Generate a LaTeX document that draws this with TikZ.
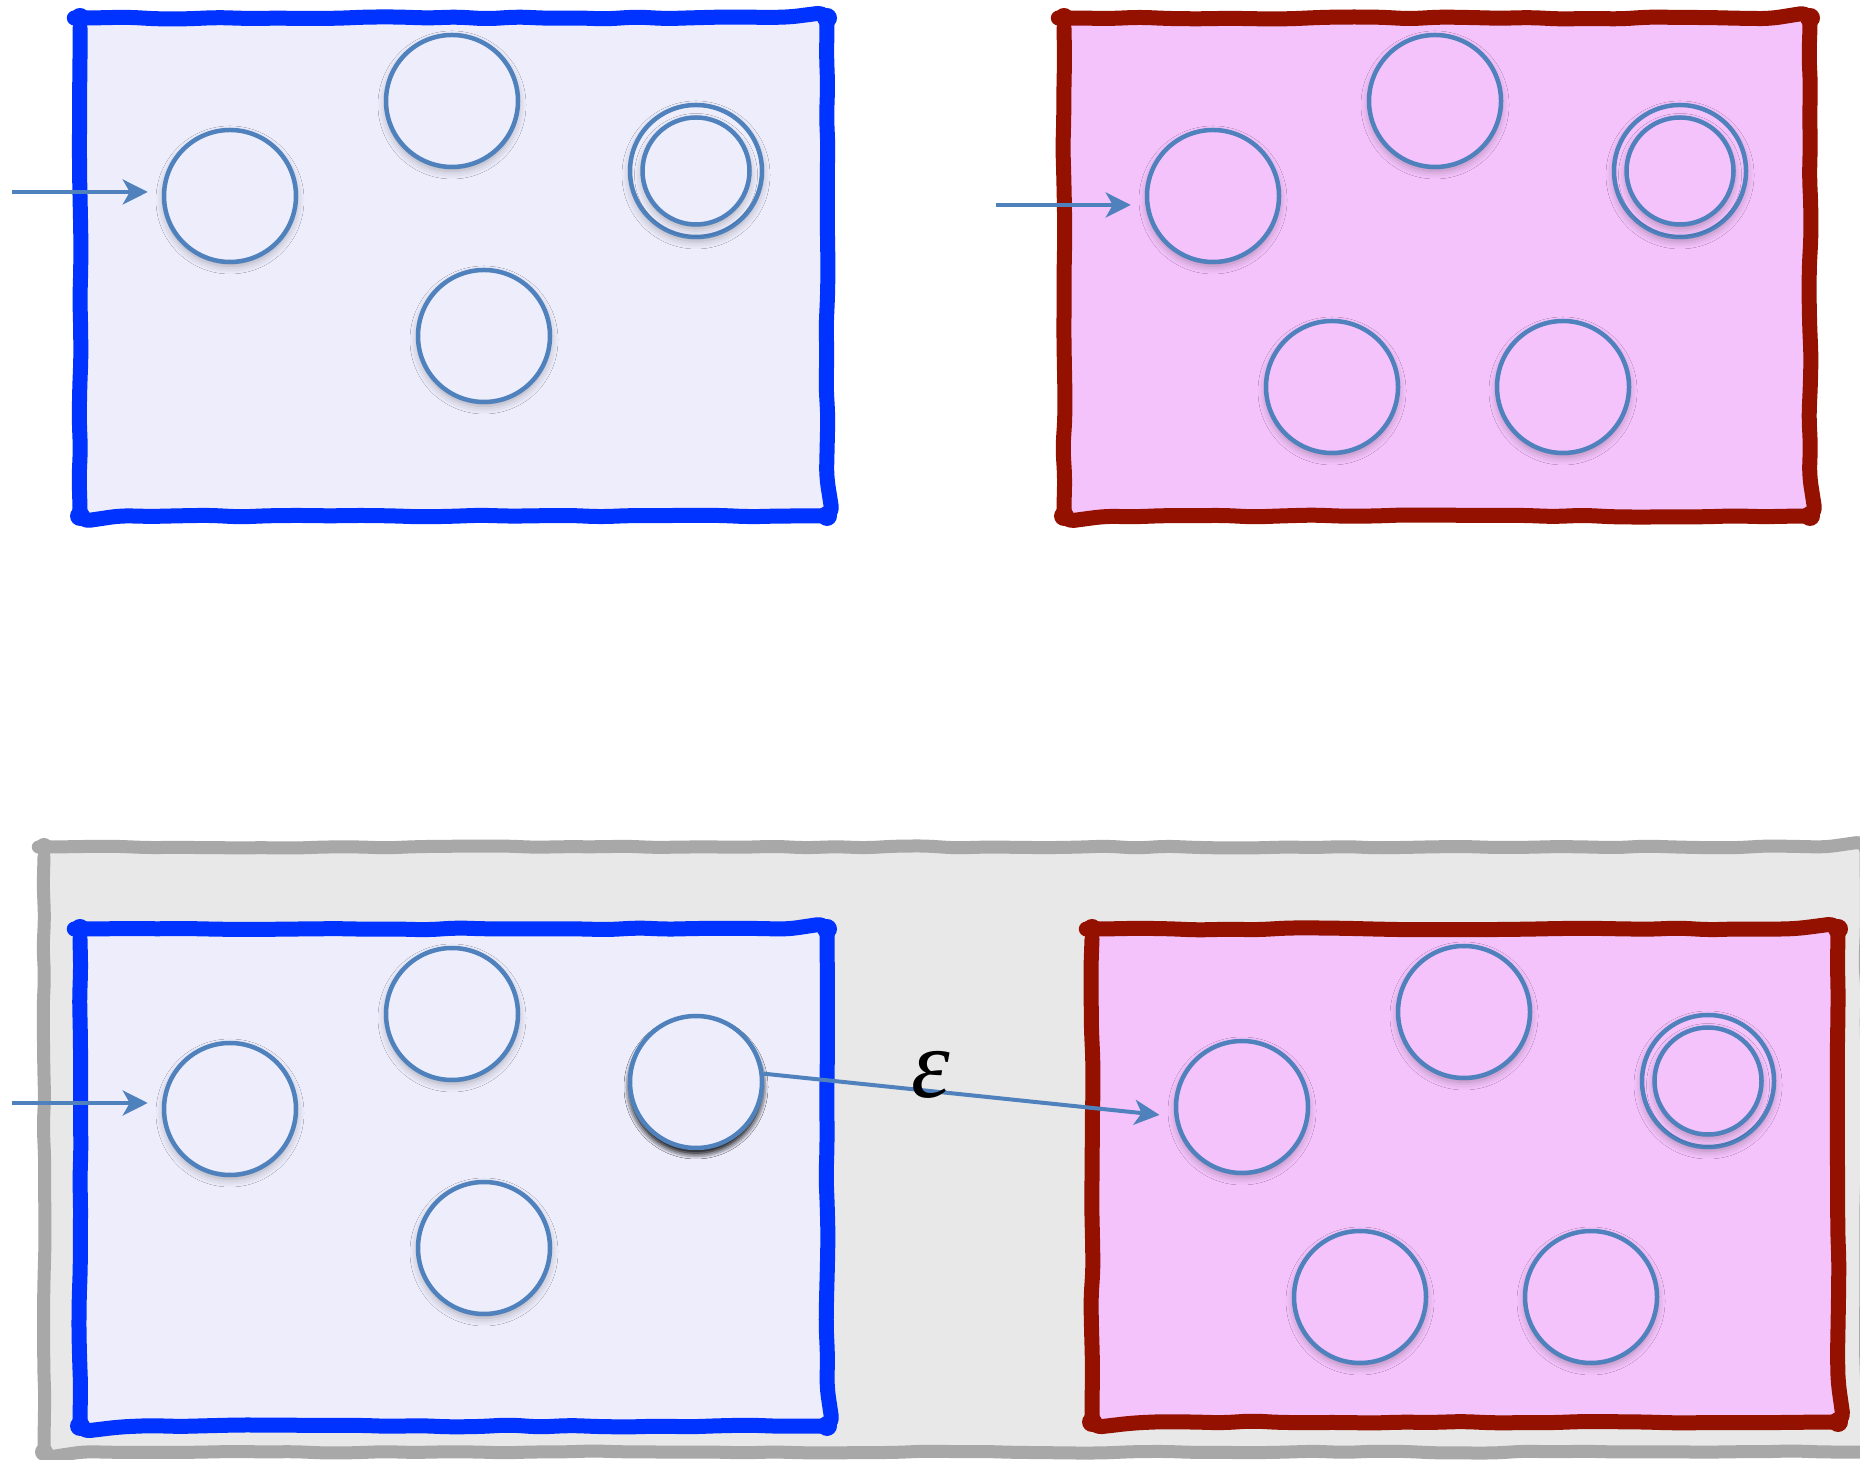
\documentclass[tikz,border=0pt]{standalone}
\usepackage{fontspec}
\newfontfamily\labelserif{Liberation Serif}
\usetikzlibrary{arrows.meta,decorations.pathmorphing,shadows.blur}

\definecolor{blueedge}{RGB}{0,51,255}
\definecolor{bluefill}{RGB}{237,237,252}
\definecolor{rededge}{RGB}{148,17,0}
\definecolor{pinkfill}{RGB}{245,195,252}
\definecolor{grayedge}{RGB}{168,168,168}
\definecolor{grayfill}{RGB}{232,232,232}
\definecolor{statecol}{RGB}{79,129,189}

\tikzset{
  sketch/.style={decorate, decoration={random steps, segment length=30pt, amplitude=1.1pt},
                 rounded corners=10pt, line join=round, line cap=round},
  bluebox/.style={sketch, draw=blueedge, fill=bluefill, line width=15pt},
  redbox/.style={sketch, draw=rededge, fill=pinkfill, line width=15pt},
  graybox/.style={sketch, draw=grayedge, fill=grayfill, line width=13pt},
  state/.style={circle, draw=statecol, line width=4.5pt, minimum size=132pt, inner sep=0pt,
                blur shadow={shadow xshift=0pt, shadow yshift=-4pt, shadow blur radius=8pt, shadow opacity=30}},
  inner ring/.style={state, minimum size=107pt},
  picked/.style={state, blur shadow={shadow xshift=0pt, shadow yshift=-5pt, shadow blur radius=6pt, shadow opacity=75}},
  arr/.style={draw=statecol, line width=4pt, -{Stealth[length=25pt,width=25pt,inset=7pt]}},
  label text/.style={font=\labelserif\itshape\fontsize{98}{100}\selectfont, anchor=base},
}

\begin{document}
\begin{tikzpicture}[x=1pt,y=1pt]
\pgfmathsetseed{11}
\clip (0,0) rectangle (1860,1459);
\useasboundingbox (0,0) rectangle (1860,1459);
\fill[white] (0,0) rectangle (1860,1459);

% ---------- upper row ----------
\path[bluebox] (80,1441) rectangle (827,943);
\foreach \p in {(80,1441),(827,1441),(80,943),(827,943)} \fill[blueedge] \p circle (10pt);
\path[redbox] (1064,1441) rectangle (1810,943);
\foreach \p in {(1064,1441),(1810,1441),(1064,943),(1810,943)} \fill[rededge] \p circle (10pt);

\node[state, fill=bluefill] (tA) at (230,1263) {};
\node[state, fill=bluefill] (tB) at (452,1358) {};
\node[state, fill=bluefill] (tC) at (484,1123) {};
\node[state, fill=bluefill] (tD) at (696,1288) {};
\node[inner ring, fill=bluefill] (tDi) at (tD) {};

\node[state, fill=pinkfill] (uA) at (1213,1263) {};
\node[state, fill=pinkfill] (uB) at (1435,1358) {};
\node[state, fill=pinkfill] (uD) at (1680,1288) {};
\node[inner ring, fill=pinkfill] (uDi) at (uD) {};
\node[state, fill=pinkfill] (uE) at (1332,1072) {};
\node[state, fill=pinkfill] (uF) at (1563,1072) {};

\coordinate (tin) at (12,1267);
\coordinate (uin) at (996,1254);
\draw[arr, shorten >=14pt] (tin) -- (tin -| tA.west);
\draw[arr, shorten >=14pt] (uin) -- (uin -| uA.west);

% ---------- lower row ----------
\path[graybox] (44,612) rectangle (1866,7);
\foreach \p in {(44,612),(44,7)} \fill[grayedge] \p circle (9pt);

\path[bluebox] (80,530) rectangle (827,33);
\foreach \p in {(80,530),(827,530),(80,33),(827,33)} \fill[blueedge] \p circle (10pt);
\path[redbox] (1092,530) rectangle (1838,37);
\foreach \p in {(1092,530),(1838,530),(1092,37),(1838,37)} \fill[rededge] \p circle (10pt);

\node[state, fill=bluefill] (bA) at (230,350) {};
\node[state, fill=bluefill] (bB) at (452,445) {};
\node[state, fill=bluefill] (bC) at (484,211) {};
\node[picked, fill=bluefill] (bD) at (696,377) {};

\node[state, fill=pinkfill] (cA) at (1242,352) {};
\node[state, fill=pinkfill] (cB) at (1464,447) {};
\node[state, fill=pinkfill] (cD) at (1708,378) {};
\node[inner ring, fill=pinkfill] (cDi) at (cD) {};
\node[state, fill=pinkfill] (cE) at (1360,162) {};
\node[state, fill=pinkfill] (cF) at (1591,162) {};

\coordinate (bin) at (12,356);
\draw[arr, shorten >=14pt] (bin) -- (bin -| bA.west);
\draw[arr, shorten >=15pt] (bD.7) -- (cA.188);

\node[label text] (eps) at (931,361) {ε};
\end{tikzpicture}
\end{document}
